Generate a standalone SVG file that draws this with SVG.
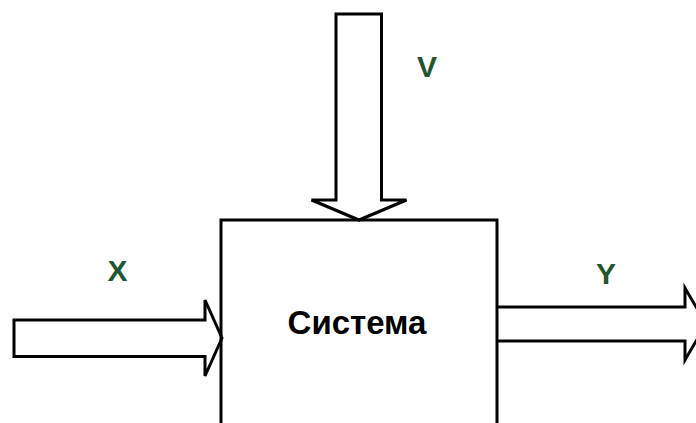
<svg xmlns="http://www.w3.org/2000/svg" width="696" height="423" viewBox="0 0 696 423">
<style>
.sh{fill:#fff;stroke:#000;stroke-width:3;stroke-linejoin:miter}
.box{fill:none;stroke:#000;stroke-width:3}
.lbl{font-family:"Liberation Sans",Arial,sans-serif;font-weight:bold;font-size:30px;fill:#1e5631;text-anchor:middle}
.t{font-family:"Liberation Sans",Arial,sans-serif;font-weight:bold;font-size:33px;fill:#000;text-anchor:middle}
</style>
<rect width="696" height="423" fill="#fff"/>
<g id="connectors">
<path id="arrow-v" class="sh" d="M336,14 H381.5 V200 H406.5 L359,220 L311.5,200 H336 Z"/>
<path id="arrow-x" class="sh" d="M14,320 H205 V300 L222,338 L205,376 V356.5 H14 Z"/>
<path id="arrow-y" class="sh" d="M497,307 H685 V288 L706,324 L685,360 V341 H497"/>
</g>
<g id="system">
<path class="box" d="M221,430 V220 H497 V430"/>
<text class="t" x="357" y="334">Система</text>
</g>
<g id="labels">
<text class="lbl" x="427" y="77">V</text>
<text class="lbl" x="117.5" y="281">X</text>
<text class="lbl" x="606" y="284">Y</text>
</g>
</svg>
